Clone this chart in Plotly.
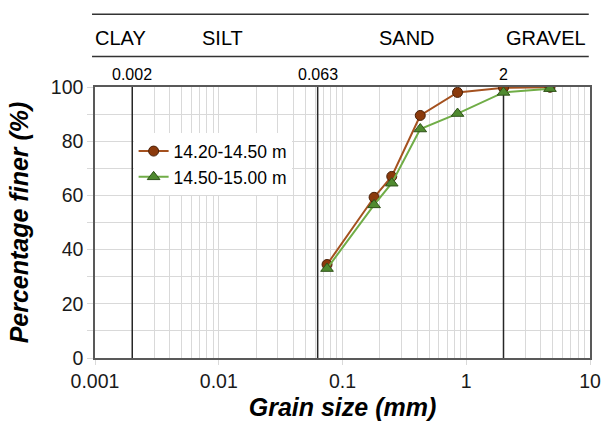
import math
import plotly.graph_objects as go

# ---- data ----
grain_size_mm = [0.075, 0.18, 0.25, 0.425, 0.85, 2.0, 4.75]
finer_1420_1450 = [34.5, 59.3, 67.0, 89.5, 98.0, 99.7, 99.9]
finer_1450_1500 = [33.0, 56.5, 64.5, 84.5, 90.2, 98.0, 99.4]
series_names = ["14.20-14.50 m", "14.50-15.00 m"]
boundaries = [0.002, 0.063, 2]
boundary_labels = ["0.002", "0.063", "2"]
soil_classes = ["CLAY", "SILT", "SAND", "GRAVEL"]
x_tickvals = [0.001, 0.01, 0.1, 1, 10]
x_ticktext = ["0.001", "0.01", "0.1", "1", "10"]

FONT = "Liberation Sans, Arial, sans-serif"

fig = go.Figure()

# boundary lines
for b in boundaries:
    fig.add_trace(go.Scatter(x=[b, b], y=[0, 100], mode="lines",
                             line=dict(color="#262626", width=1.5),
                             showlegend=False, hoverinfo="skip"))

fig.add_trace(go.Scatter(
    x=grain_size_mm, y=finer_1420_1450, name=series_names[0],
    mode="lines+markers",
    line=dict(color="#A4511F", width=2),
    marker=dict(symbol="circle", size=10, color="#8B3A0C",
                line=dict(color="#4a2008", width=1))))
fig.add_trace(go.Scatter(
    x=grain_size_mm, y=finer_1450_1500, name=series_names[1],
    mode="lines+markers",
    line=dict(color="#70AD47", width=2),
    marker=dict(symbol="triangle-up", size=11, color="#4F8A2F",
                line=dict(color="#2f5219", width=1))))

minor_vals = [m * 10 ** k for k in range(-3, 1) for m in range(2, 10)]

fig.update_xaxes(
    type="log", range=[-3, 1], automargin=False,
    tickvals=x_tickvals, ticktext=x_ticktext,
    showgrid=True, gridcolor="#d9d9d9", gridwidth=1,
    minor=dict(tickvals=minor_vals, showgrid=True, gridcolor="#d9d9d9", gridwidth=1),
    ticks="outside", ticklen=5, tickcolor="#d9d9d9",
    showline=True, mirror=True, linecolor="#595959", linewidth=1.5,
    tickfont=dict(family=FONT, size=19.5, color="#1a1a1a"),
    title=dict(text="<b><i>Grain size (mm)</i></b>",
               font=dict(family=FONT, size=25, color="#000")),
    zeroline=False,
)
fig.update_yaxes(
    range=[0, 100], dtick=20, automargin=False,
    showgrid=True, gridcolor="#d9d9d9", gridwidth=1,
    minor=dict(dtick=10, showgrid=True, gridcolor="#d9d9d9", ticks="outside",
               ticklen=6, tickcolor="#d9d9d9"),
    ticks="outside", ticklen=6, tickcolor="#d9d9d9",
    showline=True, mirror=True, linecolor="#595959", linewidth=1.5,
    tickfont=dict(family=FONT, size=19.5, color="#1a1a1a"),
    title=dict(text="<b><i>Percentage finer (%)</i></b>",
               font=dict(family=FONT, size=25, color="#000")),
    zeroline=False,
)

# header lines
for yy in [1.2685, 1.1125]:
    fig.add_shape(type="line", xref="paper", yref="paper", x0=-0.006, x1=0.9975, y0=yy, y1=yy,
                  line=dict(color="#333", width=1.5))

# soil class labels
class_pos = [(-0.005, "left"), (math.log10(0.0108), "center"),
             (math.log10(0.334), "center"), (0.995, "right")]
for name, (xp, anc) in zip(soil_classes, class_pos):
    xref = "x" if anc == "center" else "paper"
    fig.add_annotation(x=xp, xref=xref, y=1.182, yref="paper", text=name,
                       showarrow=False, xanchor=anc, yanchor="middle",
                       font=dict(family=FONT, size=20, color="#000"))

for b, lab in zip(boundaries, boundary_labels):
    fig.add_annotation(x=math.log10(b), xref="x", y=1.046, yref="paper", text=lab,
                       showarrow=False, xanchor="center", yanchor="middle",
                       font=dict(family=FONT, size=16, color="#000"))

fig.update_layout(
    width=601, height=421,
    margin=dict(l=95, r=10.5, t=87.3, b=63.3, pad=0),
    paper_bgcolor="white", plot_bgcolor="white",
    legend=dict(x=0.078, y=0.8295, xanchor="left", yanchor="top",
                bgcolor="white", borderwidth=0,
                font=dict(family=FONT, size=17.5, color="#000"),
                itemwidth=30, tracegroupgap=0),
    showlegend=True,
)

fig.write_html(
    "out.html",
    config={"displayModeBar": False},
    post_script="document.body.style.margin='0';document.body.style.padding='0';",
)
